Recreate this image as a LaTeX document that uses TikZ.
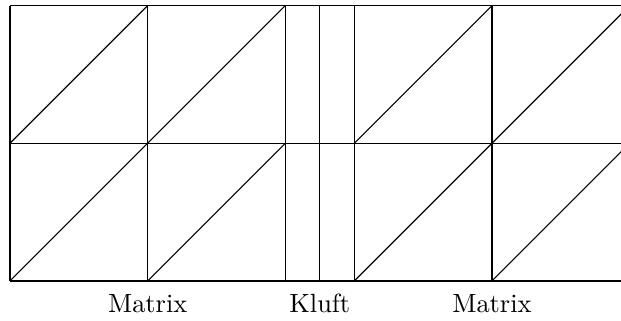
\documentclass[tikz,border=0pt]{standalone}
\begin{document}
\begin{tikzpicture}[x=1cm,y=1cm,
  meshline/.style={line width=0.45pt,black},
  lbl/.style={font=\fontsize{10.9}{13}\selectfont,inner sep=0pt}]
\useasboundingbox (-0.145,-0.581) rectangle (8.874,4.081);
\begin{scope}
\clip (-0.145,-0.581) rectangle (8.874,4.081);
% horizontal lines
\foreach \y in {0,2,4} \draw[meshline] (0,\y) -- (9,\y);
% vertical lines
\foreach \x in {0,2,4,4.5,5,7,9} \draw[meshline] (\x,0) -- (\x,4);
% diagonals in matrix cells
\foreach \x in {0,2,5,7} \foreach \y in {0,2}
  \draw[meshline] (\x,\y) -- ++(2,2);
\end{scope}
\node[lbl] (m1) at (2,-0.33) {Matrix};
\node[lbl] (k) at (4.5,-0.33) {Kluft};
\node[lbl] (m2) at (7,-0.33) {Matrix};
\end{tikzpicture}
\end{document}
